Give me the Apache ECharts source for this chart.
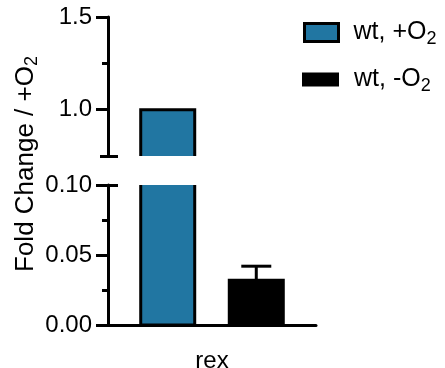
<!DOCTYPE html>
<html>
<head>
<meta charset="utf-8">
<script src="https://cdn.jsdelivr.net/npm/echarts@6/dist/echarts.min.js"></script>
<style>html,body{margin:0;padding:0;background:#fff;}#c{width:445px;height:368px;}</style>
</head>
<body>
<div id="c"></div>
<script>
// ---- data ----
const categories = ['rex'];
const seriesNames = ['wt, +O2', 'wt, -O2'];
const plusO2 = [1.0];
const minusO2 = [0.032];
const minusO2ErrTop = [0.042];
const upperRange = [0.75, 1.5];      // upper segment of broken axis
const lowerRange = [0, 0.10];        // lower segment of broken axis
const upperLabels = [1.0, 1.5];
const upperMinor = [1.25];
const lowerInterval = 0.05;
const yTitle = 'Fold Change / +O';

// ---- styles ----
const FONT = 'Liberation Sans, Arial, Helvetica, sans-serif';
const FS = 24;
const BLUE = '#2176a2';
const barW = 54, gapRatio = 0.64;
const lw = 3;
const off = barW * (1 + gapRatio) / 2;

const chart = echarts.init(document.getElementById('c'), null, {renderer: 'canvas'});

const tickOnlyAxis = (grid, range, vals, len, inside) => ({
  type: 'value', gridIndex: grid, min: range[0], max: range[1], position: 'left', offset: 0,
  axisLine: {show: false}, axisLabel: {show: false}, splitLine: {show: false},
  axisTick: {show: true, customValues: vals, length: len, inside: inside,
    lineStyle: {color: '#000', width: lw}}
});

const labelStyle = {color: '#000', fontSize: FS, fontFamily: FONT};

function barSeries(name, values, color, sign, xi, yi) {
  return {
    name: name, type: 'custom', xAxisIndex: xi, yAxisIndex: yi, clip: true,
    itemStyle: {color: color},
    data: categories.map((c, i) => [i, values[i]]),
    encode: {x: 0, y: 1},
    renderItem: (params, api) => {
      const top = api.coord([api.value(0), api.value(1)]);
      const base = api.coord([api.value(0), 0]);
      const cx = top[0] + sign * off;
      return {type: 'rect',
        shape: {x: cx - barW / 2, y: top[1], width: barW, height: base[1] - top[1]},
        style: {fill: color, stroke: '#000', lineWidth: lw}};
    }
  };
}

const legendText = () => ({
  color: '#000', fontSize: 25, fontFamily: FONT, padding: [0, 0, 0, 10],
  rich: {sub: {fontSize: 18, fontFamily: FONT, color: '#000', padding: [13, 0, 0, 0]}}
});

const option = {
  animation: false,
  backgroundColor: '#fff',
  grid: [
    {left: 108, right: 129, top: 17, height: 139, outerBoundsMode: 'none', containLabel: false},
    {left: 108, right: 129, top: 185, height: 140, outerBoundsMode: 'none', containLabel: false}
  ],
  xAxis: [
    {type: 'category', gridIndex: 0, data: categories, show: false},
    {type: 'category', gridIndex: 1, data: categories,
      axisLine: {lineStyle: {color: '#000', width: lw}},
      axisTick: {alignWithLabel: true, length: 12, lineStyle: {color: '#000', width: lw}},
      axisLabel: Object.assign({margin: 24}, labelStyle)}
  ],
  yAxis: [
    // upper main (0)
    {type: 'value', gridIndex: 0, min: upperRange[0], max: upperRange[1], position: 'left',
      axisLine: {show: true, lineStyle: {color: '#000', width: lw}},
      splitLine: {show: false},
      axisTick: {show: true, customValues: upperLabels, length: 12, lineStyle: {color: '#000', width: lw}},
      axisLabel: Object.assign({customValues: upperLabels, margin: 16, formatter: v => v.toFixed(1)}, labelStyle)},
    tickOnlyAxis(0, upperRange, upperMinor, 6, false),
    tickOnlyAxis(0, upperRange, [upperRange[0]], 8, false),
    tickOnlyAxis(0, upperRange, [upperRange[0]], 10, true),
    // lower main (4)
    {type: 'value', gridIndex: 1, min: lowerRange[0], max: lowerRange[1], interval: lowerInterval, position: 'left',
      axisLine: {show: true, lineStyle: {color: '#000', width: lw}},
      splitLine: {show: false},
      axisTick: {show: true, length: 12, lineStyle: {color: '#000', width: lw}},
      minorTick: {show: true, splitNumber: 2, length: 6, lineStyle: {color: '#000', width: lw}},
      minorSplitLine: {show: false},
      axisLabel: Object.assign({margin: 16, formatter: v => v.toFixed(2)}, labelStyle)},
    tickOnlyAxis(1, lowerRange, [lowerRange[1]], 10, true)
  ],
  legend: [
    {data: [{name: seriesNames[0], itemStyle: {color: BLUE, borderColor: '#000', borderWidth: 3}}],
      left: 298, top: 15, orient: 'vertical',
      itemWidth: 34, itemHeight: 18, icon: 'rect',
      formatter: () => 'wt, +O{sub|2}',
      textStyle: legendText()},
    {data: [{name: seriesNames[1], itemStyle: {color: '#000', borderWidth: 0}}],
      left: 297, top: 62, orient: 'vertical',
      itemWidth: 37, itemHeight: 14, icon: 'rect',
      formatter: () => 'wt, -O{sub|2}',
      textStyle: legendText()}
  ],
  series: [
    barSeries(seriesNames[0], plusO2, BLUE, -1, 0, 0),
    barSeries(seriesNames[1], minusO2, '#000', 1, 0, 0),
    barSeries(seriesNames[0], plusO2, BLUE, -1, 1, 4),
    barSeries(seriesNames[1], minusO2, '#000', 1, 1, 4),
    {type: 'custom', xAxisIndex: 1, yAxisIndex: 4, z: 5, clip: true,
      data: categories.map((c, i) => [i, minusO2[i], minusO2ErrTop[i]]),
      encode: {x: 0, y: [1, 2]},
      renderItem: (params, api) => {
        const base = api.coord([api.value(0), api.value(1)]);
        const top = api.coord([api.value(0), api.value(2)]);
        const x = base[0] + off;
        return {type: 'group', children: [
          {type: 'line', shape: {x1: x, y1: base[1], x2: x, y2: top[1]}, style: {stroke: '#000', lineWidth: lw}},
          {type: 'line', shape: {x1: x - 15, y1: top[1], x2: x + 15, y2: top[1]}, style: {stroke: '#000', lineWidth: lw}}
        ]};
      }}
  ],
  graphic: [
    {type: 'text', x: 26, y: 164, rotation: Math.PI / 2,
      style: {text: yTitle + '{sub|2}', fill: '#000', font: '26px ' + FONT,
        align: 'center', verticalAlign: 'middle',
        rich: {sub: {fontSize: 18, fontFamily: FONT, fill: '#000', padding: [13, 0, 0, 0]}}}}
  ]
};
chart.setOption(option);
</script>
</body>
</html>
